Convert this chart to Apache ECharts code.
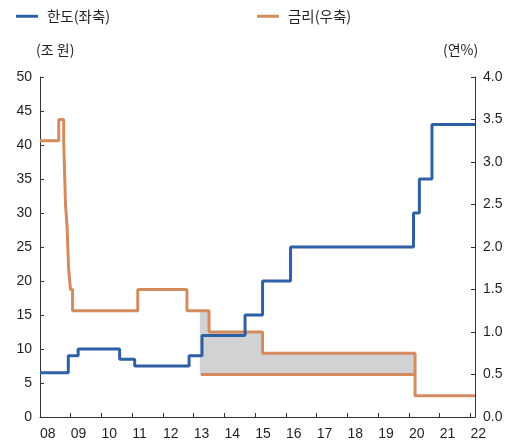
<!DOCTYPE html>
<html><head><meta charset="utf-8">
<script src="https://cdn.jsdelivr.net/npm/echarts@6/dist/echarts.min.js"></script>
<style>html,body{margin:0;padding:0;background:#fff}#c{width:509px;height:446px}</style>
</head><body><div id="c"></div>
<script>
// 한도 (조 원, left axis): step start dates (fractional year) and values
const limitDates  = [2008.00, 2008.92, 2009.24, 2010.59, 2011.08, 2012.85, 2013.27, 2014.67, 2015.24, 2016.15, 2020.15, 2020.34, 2020.75, 2022.15];
const limitValues = [6.5, 9, 10, 8.5, 7.5, 9, 12, 15, 20, 25, 30, 35, 43, 43];
// 금리 (연%, right axis)
const rateDates  = [2008.00, 2008.61, 2008.77, 2008.83, 2008.88, 2008.93, 2008.99, 2009.06, 2011.18, 2012.78, 2013.50, 2015.24, 2020.20, 2022.15];
const rateValues = [3.25, 3.5, 3.25, 2.5, 2.25, 1.75, 1.5, 1.25, 1.5, 1.25, 1.0, 0.75, 0.25, 0.25];
// lower (special) rate line
const lowRateDates  = [2013.23, 2020.20];
const lowRateValues = [0.5, 0.5];
// shaded band between rates
const bandDates  = [2013.20, 2013.50, 2015.24, 2020.20];
const bandValues = [1.25, 1.0, 0.75, 0.75];
const bandFloor = 0.5;

const names = ['한도(좌축)', '금리(우축)'];
const unitLeft = '(조 원)', unitRight = '(연%)';

const BLUE = '#2f5fa7', ORANGE = '#d58b5e', GRAY = '#d1d2d4', TXT = '#231f20';
const FONT = '"Liberation Sans", "Noto Sans CJK KR", sans-serif';
const KFONT = '"Noto Sans CJK KR", "Liberation Sans", sans-serif';

const zip = (a, b) => a.map((x, i) => [x, b[i]]);

const chart = echarts.init(document.getElementById('c'), null, {renderer: 'canvas'});
const axisCommon = {
  axisLine: {show: true, lineStyle: {color: '#333', width: 1}},
  axisTick: {show: true, inside: true, length: 4, lineStyle: {color: '#333'}},
  splitLine: {show: false},
  axisLabel: {color: TXT, fontSize: 14, fontFamily: FONT}
};
chart.setOption({
  animation: false,
  legend: [
    {data: [names[0]], left: 11, top: 4, icon: 'rect', itemWidth: 22, itemHeight: 3,
     textStyle: {color: TXT, fontSize: 14.5, fontFamily: KFONT, padding: [0, 0, 0, 4]}},
    {data: [names[1]], left: 252, top: 4, icon: 'rect', itemWidth: 22, itemHeight: 3,
     textStyle: {color: TXT, fontSize: 14.5, fontFamily: KFONT, padding: [0, 0, 0, 4]}}
  ],
  graphic: [
    {type: 'text', left: 36, top: 43, style: {text: unitLeft, fill: TXT, font: '14px ' + KFONT}},
    {type: 'text', left: 443, top: 43, style: {text: unitRight, fill: TXT, font: '14px ' + KFONT}}
  ],
  grid: {left: 40, right: 34, top: 77, bottom: 29},
  xAxis: Object.assign({}, axisCommon, {
    type: 'value', min: 2008, max: 2022.15, interval: 1,
    axisLabel: Object.assign({}, axisCommon.axisLabel, {
      align: 'left', margin: 10, showMaxLabel: false,
      formatter: v => (Math.abs(v - Math.round(v)) < 1e-6) ? String(Math.round(v) % 100).padStart(2, '0') : ''
    })
  }),
  yAxis: [
    Object.assign({}, axisCommon, {type: 'value', min: 0, max: 50, interval: 5, position: 'left',
      axisLabel: Object.assign({}, axisCommon.axisLabel, {margin: 8})}),
    Object.assign({}, axisCommon, {type: 'value', min: 0, max: 4, interval: 0.5, position: 'right',
      axisLabel: Object.assign({}, axisCommon.axisLabel, {margin: 8, formatter: v => v.toFixed(1)})})
  ],
  series: [
    {name: 'band', type: 'line', yAxisIndex: 1, step: 'end', showSymbol: false, z: 1,
     data: zip(bandDates, bandValues), lineStyle: {width: 0, opacity: 0},
     areaStyle: {color: GRAY, opacity: 1, origin: bandFloor}, silent: true},
    {name: names[1], type: 'line', yAxisIndex: 1, step: 'end', showSymbol: false, z: 2,
     data: zip(rateDates, rateValues), lineStyle: {color: ORANGE, width: 3}, itemStyle: {color: ORANGE}},
    {name: names[1], type: 'line', yAxisIndex: 1, step: 'end', showSymbol: false, z: 2,
     data: zip(lowRateDates, lowRateValues), lineStyle: {color: ORANGE, width: 3}, itemStyle: {color: ORANGE}},
    {name: names[0], type: 'line', yAxisIndex: 0, step: 'end', showSymbol: false, z: 3,
     data: zip(limitDates, limitValues), lineStyle: {color: BLUE, width: 3}, itemStyle: {color: BLUE}}
  ]
});
</script></body></html>
